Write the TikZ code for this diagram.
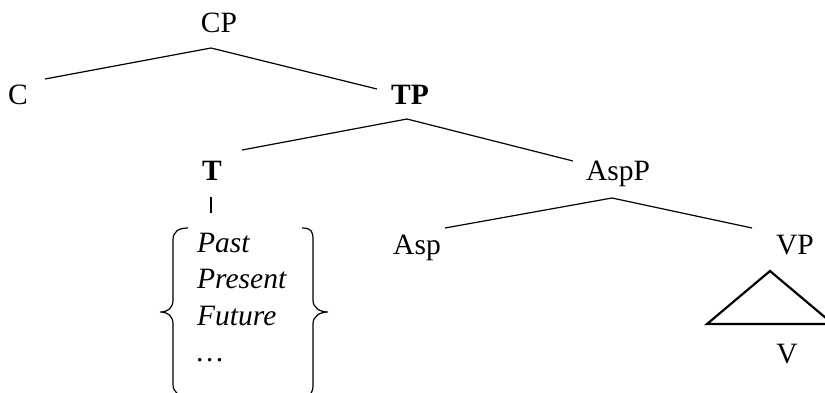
\documentclass[tikz,border=0pt]{standalone}
\usepackage{fontspec}
\setmainfont{Liberation Serif}
\begin{document}
\begin{tikzpicture}[x=1pt,y=-1pt,
  every node/.style={inner sep=0pt, font=\fontsize{29.5}{34}\selectfont},
  lbl/.style={anchor=base},
  item/.style={anchor=base west, font=\fontsize{29.5}{34}\selectfont\itshape},
  branch/.style={line width=1.2pt},
  tri/.style={line width=2.2pt, line join=miter},
  brace/.style={line width=1.2pt}]
\useasboundingbox (0,0) rectangle (825,392);
\clip (0,0) rectangle (825,392);
% labels
\node[lbl] (CP) at (219,32) {CP};
\node[lbl] (C) at (18,104) {C};
\node[lbl] (TP) at (410,104) {\textbf{TP}};
\node[lbl] (T) at (212,180) {\textbf{T}};
\node[lbl] (AspP) at (618,180) {AspP};
\node[lbl] (Asp) at (417,254) {Asp};
\node[lbl] (VP) at (795,254) {VP};
\node[lbl] (V) at (787,363) {V};
\node[item] (past) at (197,252) {Past};
\node[item] (present) at (197,288.5) {Present};
\node[item] (future) at (197,325) {Future};
\node[item] (etc) at (197,361.5) {\dots};
% branch points
\coordinate (cpb) at (211,48);
\coordinate (cl) at (45,79);
\coordinate (cr) at (377,89);
\coordinate (tpb) at (407,119);
\coordinate (tl) at (242,150);
\coordinate (tr) at (573,161);
\coordinate (aspb) at (612,198);
\coordinate (al) at (445,228);
\coordinate (ar) at (752,228);
\coordinate (tt) at (211,197);
\coordinate (tb) at (211,213);
\coordinate (apex) at (770,271);
\coordinate (bl) at (707,324);
\coordinate (br) at (833,324);
% branches
\draw[branch] (cl) -- (cpb) -- (cr);
\draw[branch] (tl) -- (tpb) -- (tr);
\draw[branch] (al) -- (aspb) -- (ar);
\draw[branch] (tt) -- (tb);
\draw[tri] (apex) -- (bl) -- (br) -- cycle;
% braces
\draw[brace] (188,228) .. controls (178,228) and (173,232) .. (173,240) -- (173,300)
  .. controls (173,308) and (168,312) .. (160,312)
  .. controls (168,312) and (173,316) .. (173,324) -- (173,384)
  .. controls (173,392) and (178,396) .. (188,396);
\draw[brace] (302,228) .. controls (312,228) and (313,232) .. (313,240) -- (313,300)
  .. controls (313,308) and (320,312) .. (328,312)
  .. controls (320,312) and (313,316) .. (313,324) -- (313,384)
  .. controls (313,392) and (312,396) .. (302,396);
\end{tikzpicture}
\end{document}
